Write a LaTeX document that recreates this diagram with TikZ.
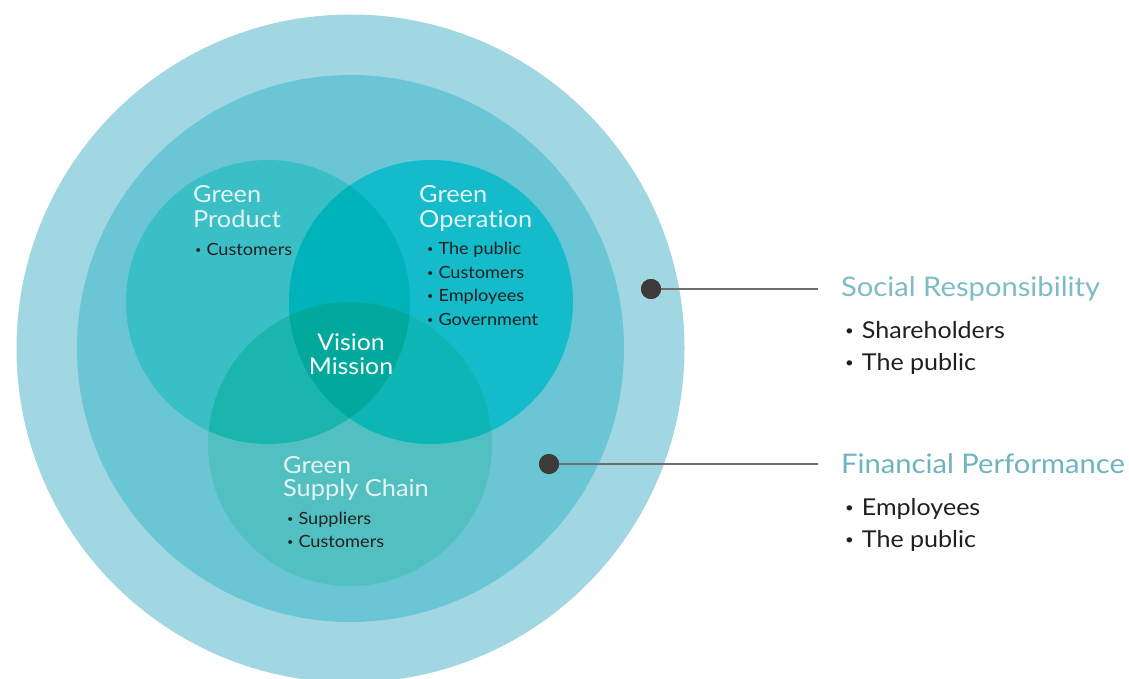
\documentclass[tikz,border=0pt]{standalone}
\usepackage{fontspec}
\usepackage{graphicx}
\setmainfont{Lato}[FakeStretch=1.08, Ligatures={NoCommon,NoRare,NoDiscretionary,NoContextual}]
\definecolor{outerc}{HTML}{A1D7E3}
\definecolor{midc}{HTML}{6AC5D4}
\definecolor{prodc}{HTML}{3BBFC6}
\definecolor{operc}{HTML}{14BBCB}
\definecolor{supc}{HTML}{52C0C1}
\definecolor{pocol}{HTML}{00B2BA}
\definecolor{pscol}{HTML}{1AB6AE}
\definecolor{oscol}{HTML}{0EB5B5}
\definecolor{centc}{HTML}{00A99C}
\definecolor{dotc}{HTML}{3E3A39}
\definecolor{linec}{HTML}{6E6E6E}
\definecolor{txtc}{HTML}{231F20}
\definecolor{wtxt}{HTML}{E4F4F4}
\definecolor{srcol}{HTML}{7DBBC8}
\definecolor{fpcol}{HTML}{6CB4BF}
\newcommand{\bul}{\raisebox{0.22ex}{\scalebox{0.6}{•}}}
\tikzset{
  wtitle/.style={anchor=base west, inner sep=0pt, text=wtxt, font=\fontsize{23.5}{25}\selectfont},
  ctitle/.style={anchor=base, inner sep=0pt, text=white, font=\fontsize{23}{25}\selectfont},
  sitem/.style={anchor=base west, inner sep=0pt, text=txtc, font=\fontsize{16.8}{18}\selectfont},
  rtitle/.style={anchor=base west, inner sep=0pt, font=\fontsize{27}{30}\selectfont},
  ritem/.style={anchor=base west, inner sep=0pt, text=txtc, font=\fontsize{23.2}{25}\selectfont},
  bdot/.style={circle, fill=dotc, inner sep=0pt, minimum size=20pt},
  conn/.style={draw=linec, line width=1.5pt}
}
\begin{document}
\begin{tikzpicture}[x=1pt,y=-1pt]
\useasboundingbox (0,0) rectangle (1129,679);
\begin{scope}
\clip (0,0) rectangle (1129,679);
\fill[outerc] (350.5,348.5) circle (334);
\fill[midc] (350.5,348.5) circle (273.5);
\def\P{(268,302) circle (142)}
\def\O{(431,302) circle (142)}
\def\S{(350,444) circle (142)}
\fill[prodc] \P;
\fill[operc] \O;
\fill[supc] \S;
\begin{scope}\clip \P; \fill[pocol] \O; \end{scope}
\begin{scope}\clip \P; \fill[pscol] \S; \end{scope}
\begin{scope}\clip \O; \fill[oscol] \S; \end{scope}
\begin{scope}\clip \P; \clip \O; \fill[centc] \S; \end{scope}
\end{scope}

% Green Product
\node[wtitle] (gp1) at (193,203) {Green};
\node[wtitle] (gp2) at (193,227) {Product};
\node[sitem] (gpa) at (195,255) {\bul\hspace{5pt}Customers};

% Green Operation
\node[wtitle] (go1) at (419,203) {Green};
\node[wtitle] (go2) at (419,227) {Operation};
\node[sitem] (goa) at (427,254) {\bul\hspace{5pt}The public};
\node[sitem] (gob) at (427,278) {\bul\hspace{5pt}Customers};
\node[sitem] (goc) at (427,301) {\bul\hspace{5pt}Employees};
\node[sitem] (god) at (427,325) {\bul\hspace{5pt}Government};

% Vision Mission
\node[ctitle] (vm1) at (351,350) {Vision};
\node[ctitle] (vm2) at (351,374) {Mission};

% Green Supply Chain
\node[wtitle] (gs1) at (283,473) {Green};
\node[wtitle] (gs2) at (283,496) {Supply Chain};
\node[sitem] (gsa) at (287,524) {\bul\hspace{5pt}Suppliers};
\node[sitem] (gsb) at (287,547) {\bul\hspace{5pt}Customers};

% connectors
\node[bdot] (d1) at (651,289) {};
\coordinate (e1) at (818,289);
\draw[conn] (d1.center) -- (e1);
\node[bdot] (d2) at (549,464) {};
\coordinate (e2) at (818,464);
\draw[conn] (d2.center) -- (e2);
\node[bdot] at (651,289) {};
\node[bdot] at (549,464) {};

% right texts
\node[rtitle, text=srcol] (sr) at (841,296) {Social Responsibility};
\node[ritem] (sra) at (845,338) {\bul\hspace{8pt}Shareholders};
\node[ritem] (srb) at (845,370) {\bul\hspace{8pt}The public};
\node[rtitle, text=fpcol] (fp) at (841,473) {Financial Performance};
\node[ritem] (fpa) at (845,515) {\bul\hspace{8pt}Employees};
\node[ritem] (fpb) at (845,547) {\bul\hspace{8pt}The public};
\end{tikzpicture}
\end{document}
